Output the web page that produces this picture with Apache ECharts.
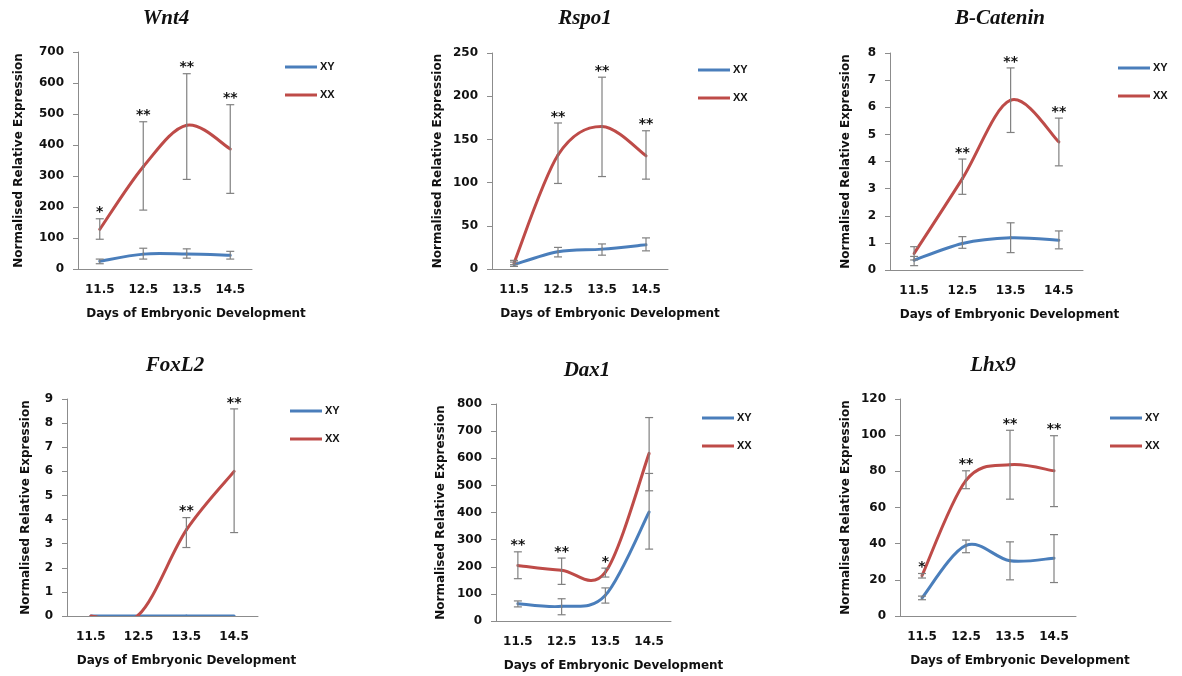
<!DOCTYPE html>
<html>
<head>
<meta charset="utf-8">
<script src="https://cdn.jsdelivr.net/npm/echarts@6/dist/echarts.min.js"></script>
<style>
  html, body { margin: 0; background: #fff; }
  #chart { width: 1182px; height: 676px; }
</style>
</head>
<body>
<div id="chart"></div>
<script>
// categories
const days = ['11.5', '12.5', '13.5', '14.5'];

// Wnt4
const wnt4XY = [25, 48, 48, 44];
const wnt4XYLow = [17, 32, 35, 32];
const wnt4XYHigh = [32, 67, 65, 57];
const wnt4XX = [128, 330, 464, 387];
const wnt4XXLow = [96, 190, 289, 244];
const wnt4XXHigh = [162, 475, 630, 530];
const wnt4Sig = ['*', '**', '**', '**'];

// Rspo1
const rspo1XY = [5, 20, 23, 28];
const rspo1XYLow = [3, 14, 16, 21];
const rspo1XYHigh = [8, 25, 29, 36];
const rspo1XX = [7, 132, 165, 131];
const rspo1XXLow = [5, 99, 107, 104];
const rspo1XXHigh = [10, 169, 222, 160];
const rspo1Sig = ['', '**', '**', '**'];

// B-Catenin
const bcatXY = [0.36, 0.98, 1.19, 1.1];
const bcatXYLow = [0.16, 0.8, 0.64, 0.78];
const bcatXYHigh = [0.5, 1.23, 1.74, 1.44];
const bcatXX = [0.61, 3.37, 6.26, 4.72];
const bcatXXLow = [0.37, 2.79, 5.07, 3.84];
const bcatXXHigh = [0.86, 4.09, 7.45, 5.6];
const bcatSig = ['', '**', '**', '**'];

// FoxL2
const foxl2XY = [0, 0, 0, 0];
const foxl2XYLow = [0, 0, 0, 0];
const foxl2XYHigh = [0, 0, 0, 0];
const foxl2XX = [0, 0.05, 3.57, 6.0];
const foxl2XXLow = [0, 0.05, 2.84, 3.46];
const foxl2XXHigh = [0, 0.05, 4.08, 8.59];
const foxl2Sig = ['', '', '**', '**'];

// Dax1
const dax1XY = [64, 54, 95, 402];
const dax1XYLow = [52, 23, 66, 265];
const dax1XYHigh = [74, 82, 122, 544];
const dax1XX = [205, 187, 180, 618];
const dax1XXLow = [156, 135, 162, 480];
const dax1XXHigh = [255, 232, 195, 750];
const dax1Sig = ['**', '**', '*', ''];

// Lhx9
const lhx9XY = [10, 39, 30.5, 32];
const lhx9XYLow = [9, 35, 20, 18.5];
const lhx9XYHigh = [11, 42, 41, 45];
const lhx9XX = [22.3, 75, 83.6, 80.3];
const lhx9XXLow = [21, 70.4, 64.6, 60.5];
const lhx9XXHigh = [23.5, 80.3, 102.7, 99.7];
const lhx9Sig = ['*', '**', '**', '**'];

const BLUE = '#4A7EBB';
const RED = '#BE4B48';
const AXIS = '#8C8C8C';
const SANS = 'DejaVu Sans';

const panels = [
  { title: 'Wnt4', xy: [wnt4XY, wnt4XYLow, wnt4XYHigh], xx: [wnt4XX, wnt4XXLow, wnt4XXHigh], sig: wnt4Sig,
    max: 700, step: 100, grid: [78, 52, 174, 217], yGap: 53, xShift: 31, legend: [285, 60], head: [166, 19] },
  { title: 'Rspo1', xy: [rspo1XY, rspo1XYLow, rspo1XYHigh], xx: [rspo1XX, rspo1XXLow, rspo1XXHigh], sig: rspo1Sig,
    max: 250, step: 50, grid: [492, 53, 176, 216], yGap: 48, xShift: 30, legend: [698, 63], head: [585, 19] },
  { title: 'B-Catenin', xy: [bcatXY, bcatXYLow, bcatXYHigh], xx: [bcatXX, bcatXXLow, bcatXXHigh], sig: bcatSig,
    max: 8, step: 1, grid: [890, 53, 193, 217], yGap: 38, xShift: 23, legend: [1118, 61], head: [1000, 19] },
  { title: 'FoxL2', xy: [foxl2XY, foxl2XYLow, foxl2XYHigh], xx: [foxl2XX, foxl2XXLow, foxl2XXHigh], sig: foxl2Sig,
    max: 9, step: 1, grid: [67, 399, 191, 217], yGap: 35, xShift: 24, legend: [290, 404], head: [175, 366] },
  { title: 'Dax1', xy: [dax1XY, dax1XYLow, dax1XYHigh], xx: [dax1XX, dax1XXLow, dax1XXHigh], sig: dax1Sig,
    max: 800, step: 100, grid: [496, 404, 175, 217], yGap: 49, xShift: 30, legend: [702, 411], head: [587, 371] },
  { title: 'Lhx9', xy: [lhx9XY, lhx9XYLow, lhx9XYHigh], xx: [lhx9XX, lhx9XXLow, lhx9XXHigh], sig: lhx9Sig,
    max: 120, step: 20, grid: [900, 399, 176, 217], yGap: 48, xShift: 32, legend: [1110, 411], head: [993, 366] }
];

// smoothed line like a spreadsheet's: cardinal bezier through the points, drawn via api.coord
function curve(name, values, color) {
  return {
    type: 'custom',
    name: name,
    silent: true,
    clip: true,
    z: 3,
    itemStyle: { color: color },
    renderItem: function (params, api) {
      const i = params.dataIndex;
      const n = values.length;
      if (i >= n - 1) return null;
      const pt = j => api.coord([Math.max(0, Math.min(n - 1, j)), values[Math.max(0, Math.min(n - 1, j))]]);
      const p0 = pt(i - 1), p1 = pt(i), p2 = pt(i + 1), p3 = pt(i + 2);
      return {
        type: 'bezierCurve',
        shape: {
          x1: p1[0], y1: p1[1], x2: p2[0], y2: p2[1],
          cpx1: p1[0] + (p2[0] - p0[0]) / 6, cpy1: p1[1] + (p2[1] - p0[1]) / 6,
          cpx2: p2[0] - (p3[0] - p1[0]) / 6, cpy2: p2[1] - (p3[1] - p1[1]) / 6
        },
        style: { stroke: color, lineWidth: 3, fill: null, lineCap: 'round' }
      };
    },
    data: values.map((v, i) => [i, v])
  };
}

function errorBars(low, high) {
  return {
    type: 'custom',
    silent: true,
    z: 5,
    renderItem: function (params, api) {
      const i = api.value(0);
      const lo = api.coord([i, api.value(1)]);
      const hi = api.coord([i, api.value(2)]);
      if (Math.abs(lo[1] - hi[1]) < 1) return null;
      const w = 4;
      const st = { stroke: '#808080', lineWidth: 1.2 };
      return {
        type: 'group',
        children: [
          { type: 'line', shape: { x1: lo[0], y1: lo[1], x2: hi[0], y2: hi[1] }, style: st },
          { type: 'line', shape: { x1: hi[0] - w, y1: hi[1], x2: hi[0] + w, y2: hi[1] }, style: st },
          { type: 'line', shape: { x1: lo[0] - w, y1: lo[1], x2: lo[0] + w, y2: lo[1] }, style: st }
        ]
      };
    },
    data: low.map((v, i) => [i, v, high[i]])
  };
}

const option = {
  animation: false,
  backgroundColor: '#fff',
  grid: [], xAxis: [], yAxis: [], legend: [], series: [], graphic: []
};

panels.forEach((p, k) => {
  option.grid.push({ left: p.grid[0], top: p.grid[1], width: p.grid[2], height: p.grid[3] });
  option.xAxis.push({
    type: 'category', gridIndex: k, data: days,
    axisLine: { lineStyle: { color: AXIS } },
    axisTick: { length: 5, lineStyle: { color: AXIS } },
    axisLabel: { margin: 15, color: '#111', fontFamily: SANS, fontWeight: 'bold', fontSize: 12 },
    name: 'Days of Embryonic Development', nameLocation: 'middle', nameGap: 39,
    nameTextStyle: { color: '#111', fontFamily: SANS, fontWeight: 'bold', fontSize: 12,
      padding: [0, 0, 0, p.xShift * 2] }
  });
  option.yAxis.push({
    type: 'value', gridIndex: k, min: 0, max: p.max, interval: p.step,
    splitLine: { show: false },
    axisLine: { show: true, lineStyle: { color: AXIS } },
    axisTick: { show: true, length: 5, lineStyle: { color: AXIS } },
    axisLabel: { margin: 14, color: '#111', fontFamily: SANS, fontWeight: 'bold', fontSize: 12 },
    name: 'Normalised Relative Expression', nameLocation: 'middle', nameGap: p.yGap,
    nameTextStyle: { color: '#111', fontFamily: SANS, fontWeight: 'bold', fontSize: 12 }
  });
  option.legend.push({
    data: ['XY', 'XX'], orient: 'vertical', left: p.legend[0], top: p.legend[1], padding: 0,
    itemWidth: 32, itemHeight: 3, itemGap: 14, icon: 'rect', selectedMode: false,
    textStyle: { color: '#111', fontFamily: 'Liberation Sans', fontWeight: 'bold', fontSize: 11, lineHeight: 14, padding: [0, 0, 0, -2] }
  });
  option.series.push(
    Object.assign(curve('XY', p.xy[0], BLUE), { xAxisIndex: k, yAxisIndex: k }),
    Object.assign(curve('XX', p.xx[0], RED), { xAxisIndex: k, yAxisIndex: k }),
    Object.assign(errorBars(p.xy[1], p.xy[2]), { xAxisIndex: k, yAxisIndex: k }),
    Object.assign(errorBars(p.xx[1], p.xx[2]), { xAxisIndex: k, yAxisIndex: k }),
    {
      type: 'custom', xAxisIndex: k, yAxisIndex: k, silent: true, z: 6,
      renderItem: function (params, api) {
        const s = p.sig[params.dataIndex];
        if (!s) return null;
        const c = api.coord([api.value(0), api.value(1)]);
        return {
          type: 'text', x: c[0], y: c[1] + 1,
          style: { text: s, fill: '#111', fontFamily: SANS, fontWeight: 'bold', fontSize: 14,
            align: 'center', verticalAlign: 'bottom' }
        };
      },
      data: p.sig.map((s, i) => [i, Math.max(p.xx[2][i], p.xy[2][i])])
    }
  );
  option.graphic.push({
    type: 'text', x: p.head[0], y: p.head[1],
    style: { text: p.title, fill: '#111', fontFamily: 'Liberation Serif', fontStyle: 'italic',
      fontWeight: 'bold', fontSize: 21, align: 'center', verticalAlign: 'middle' }
  });
});

const chart = echarts.init(document.getElementById('chart'));
chart.setOption(option);
</script>
</body>
</html>
